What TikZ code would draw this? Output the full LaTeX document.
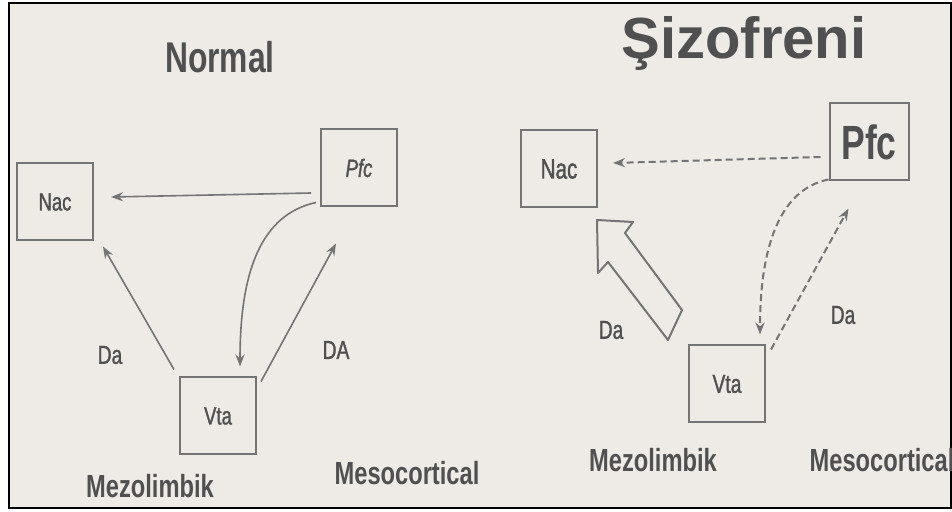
\documentclass[tikz,border=0pt]{standalone}
\usepackage{fontspec}
\setmainfont{Liberation Sans}
\newfontfamily\condfont{Liberation Sans}[FakeStretch=0.74]
\newfontfamily\medfont{Liberation Sans}[FakeStretch=0.74, FakeBold=1.3]
\usepackage{tikz}
\usetikzlibrary{arrows.meta,calc}
\definecolor{paper}{HTML}{EEEBE6}
\definecolor{ink}{HTML}{505050}
\definecolor{wire}{HTML}{747474}

\begin{document}
\begin{tikzpicture}[
    x=0.5pt, y=-0.5pt,
    region/.style={rectangle, draw=wire, line width=1pt, minimum width=38pt, minimum height=38.5pt, inner sep=0pt, text=ink, font=\medfont\fontsize{12.5}{14}\selectfont},
    flow/.style={draw=wire, line width=0.8pt, -{Stealth[length=6pt,width=4.5pt]}},
    weak/.style={flow, line width=1pt, dash pattern=on 3.5pt off 2pt},
    tag/.style={text=ink, font=\medfont\fontsize{13}{15}\selectfont},
    pathway/.style={text=ink, font=\condfont\bfseries\fontsize{16}{18}\selectfont},
    title/.style={text=ink, font=\condfont\bfseries\fontsize{21.5}{24}\selectfont}
]
\useasboundingbox (0,0) rectangle (952,512);
\fill[white] (0,0) rectangle (952,512);
\filldraw[fill=paper, draw=black, line width=1pt] (9,3) rectangle (951,508);

\node [title] (normal) at (220,57) {Normal};
\node [region] (nacL) at (55,202) {Nac};
\node [region] (pfcL) at (359,168) {\itshape Pfc};
\node [region] (vtaL) at (218,416) {Vta};

\draw [flow] ($(pfcL.west)+(-9,25)$) -- ($(nacL.east)+(17,-5)$);
\draw [flow] ($(vtaL.north west)+(-5,-7)$) -- ($(nacL.south east)+(9,5)$);
\draw [flow] ($(vtaL.north east)+(4,5)$) -- ($(pfcL.south west)+(16,36)$);
\draw [flow] ($(pfcL.south west)+(-4,-5)$) .. controls +(-55,12) and +(0,-95) .. ($(vtaL.north)+(22,-10)$);

\node [tag] (daL) at (110,355) {Da};
\node [tag] (dopL) at (336,350) {DA};
\node [pathway] (mezoL) at (150,486) {Mezolimbik};
\node [pathway] (mesoL) at (407,473) {Mesocortical};

\node [text=ink, font=\bfseries\fontsize{29}{32}\selectfont] (sizo) at (744,44) {Şizofreni};
\node [region, font=\medfont\fontsize{14}{16}\selectfont] (nacR) at (559,169) {Nac};
\node [region, minimum width=39.5pt, font=\condfont\bfseries\fontsize{24}{26}\selectfont] (pfcR) at (869,142) {Pfc};
\node [region, font=\medfont\fontsize{13}{15}\selectfont] (vtaR) at (727,384) {Vta};

\draw [weak] ($(pfcR.west)+(-8,15)$) -- ($(nacR.east)+(15,-6)$);
\draw [weak] ($(pfcR.south west)+(0,-2)$) .. controls +(-50,10) and +(0,-85) .. ($(vtaR.north)+(33,-10)$);
\draw [weak] ($(vtaR.north east)+(5,5)$) -- ($(pfcR.south west)+(20,27)$);
\draw [draw=wire, line width=1pt, line join=round] (597,220) -- (633,222) -- (625,233) -- (682,310) -- (668,340) -- (608,262) -- (598,273) -- cycle;

\node [tag] (daR) at (611,330) {Da};
\node [tag] (daR2) at (843,315) {Da};
\node [pathway] (mezoR) at (653,460) {Mezolimbik};
\node [pathway] (mesoR) at (882,460) {Mesocortical};

\end{tikzpicture}
\end{document}
